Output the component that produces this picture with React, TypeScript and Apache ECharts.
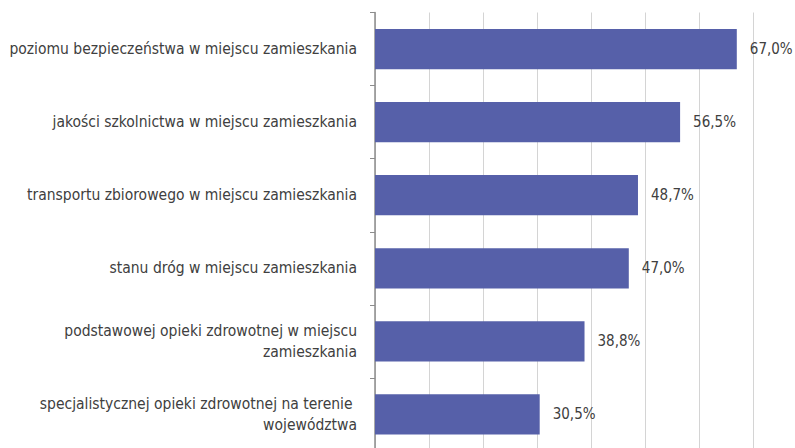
import React, { useEffect, useRef } from "react";
import * as echarts from "echarts";

const categories: string[] = [
  "poziomu bezpieczeństwa w miejscu zamieszkania",
  "jakości szkolnictwa w miejscu zamieszkania",
  "transportu zbiorowego w miejscu zamieszkania",
  "stanu dróg w miejscu zamieszkania",
  "podstawowej opieki zdrowotnej w miejscu\nzamieszkania",
  "specjalistycznej opieki zdrowotnej na terenie \nwojewództwa",
];
const values: number[] = [67.0, 56.5, 48.7, 47.0, 38.8, 30.5];

const FONT = "'DejaVu Sans Condensed', 'Liberation Sans Narrow', sans-serif";

export default function App() {
  const ref = useRef<HTMLDivElement>(null);
  useEffect(() => {
    if (!ref.current) return;
    const chart = echarts.init(ref.current, undefined, { renderer: "svg" });
    chart.setOption({
      animation: false,
      backgroundColor: "#ffffff",
      grid: {
        left: 375,
        top: 12.5,
        width: 432,
        height: 438.5,
        containLabel: false,
        outerBoundsMode: "none",
      },
      xAxis: {
        type: "value",
        min: 0,
        max: 80,
        interval: 10,
        axisLine: { show: false },
        axisTick: { show: false },
        axisLabel: { show: false },
        splitLine: { show: true, lineStyle: { color: "#d4d4d4", width: 1 } },
      },
      yAxis: {
        type: "category",
        data: categories,
        inverse: true,
        axisLine: { show: true, lineStyle: { color: "#8c8c8c", width: 1.5 } },
        axisTick: { show: true, length: 5, lineStyle: { color: "#8c8c8c" } },
        axisLabel: {
          margin: 18,
          fontFamily: FONT,
          fontSize: 15.5,
          color: "#404040",
          lineHeight: 21,
          align: "right",
        },
      },
      series: [
        {
          type: "bar",
          data: values,
          barCategoryGap: "45%",
          itemStyle: { color: "#5660a9" },
          label: {
            show: true,
            position: "right",
            distance: 13,
            fontFamily: FONT,
            fontSize: 15,
            color: "#404040",
            formatter: (p: any) => p.value.toFixed(1).replace(".", ",") + "%",
          },
        },
      ],
    });
    return () => chart.dispose();
  }, []);
  return (
    <div
      ref={ref}
      style={{ position: "fixed", left: 0, top: 0, width: 795, height: 448 }}
    />
  );
}
